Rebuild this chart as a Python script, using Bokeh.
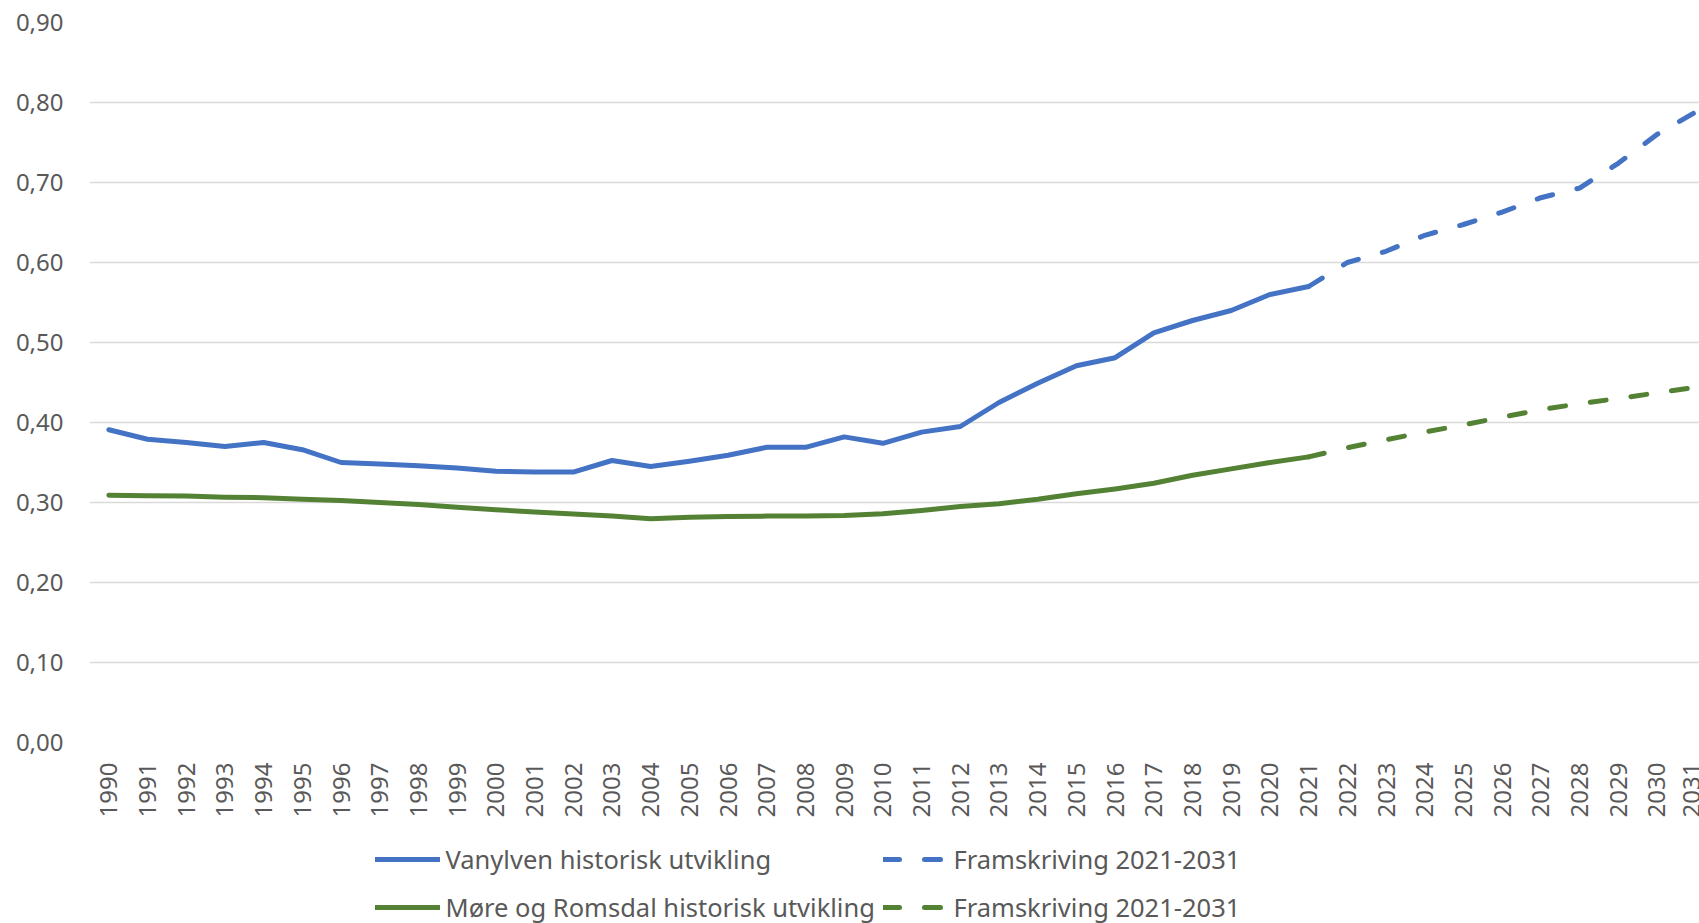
from bokeh.plotting import figure
from bokeh.models import Range1d, FixedTicker, CustomJSTickFormatter, Legend, LegendItem
from bokeh.layouts import column
from bokeh.embed import file_html
from bokeh.resources import INLINE
import math

# ---- data ----
years_hist = list(range(1990, 2022))
years_proj = list(range(2021, 2032))
all_years = list(range(1990, 2032))

vanylven_hist = [0.391, 0.379, 0.375, 0.370, 0.375, 0.366, 0.350, 0.348, 0.346, 0.343,
                 0.339, 0.338, 0.338, 0.3525, 0.345, 0.3515, 0.359, 0.369, 0.369, 0.382,
                 0.374, 0.388, 0.395, 0.425, 0.449, 0.471, 0.481, 0.512, 0.5275, 0.540,
                 0.560, 0.570]
vanylven_proj = [0.570, 0.600, 0.614, 0.634, 0.6475, 0.663, 0.681, 0.693, 0.724, 0.760, 0.788]

more_hist = [0.309, 0.3085, 0.308, 0.3067, 0.306, 0.304, 0.3025, 0.300, 0.2975, 0.294,
             0.291, 0.288, 0.2855, 0.283, 0.2796, 0.2817, 0.2825, 0.283, 0.283, 0.2837,
             0.286, 0.290, 0.295, 0.2985, 0.304, 0.311, 0.317, 0.324, 0.334, 0.342,
             0.350, 0.357]
more_proj = [0.357, 0.3685, 0.3785, 0.388, 0.397, 0.4067, 0.416, 0.4235, 0.430, 0.437, 0.444]

y_ticks = [0.0, 0.1, 0.2, 0.3, 0.4, 0.5, 0.6, 0.7, 0.8, 0.9]

labels = ["Vanylven historisk utvikling", "Framskriving 2021-2031",
          "Møre og Romsdal historisk utvikling", "Framskriving 2021-2031"]

BLUE = "#4472C4"
GREEN = "#548235"
TXT = "#595959"
FONT = "Noto Sans"
DASH = "16 25"

p = figure(width=1699, height=842, output_backend="svg", toolbar_location=None,
           x_range=Range1d(1989.5, 2031.1), y_range=Range1d(0, 0.9),
           min_border_left=89, min_border_right=0, min_border_top=22, min_border_bottom=100)
p.outline_line_color = None
p.background_fill_color = "white"
p.border_fill_color = "white"

line_kw = dict(line_width=5, line_join="round", line_cap="round")
p.line(years_hist, vanylven_hist, line_color=BLUE, **line_kw)
p.line(years_proj, vanylven_proj, line_color=BLUE, line_dash=DASH, **line_kw)
p.line(years_hist, more_hist, line_color=GREEN, **line_kw)
p.line(years_proj, more_proj, line_color=GREEN, line_dash=DASH, **line_kw)

# axes
p.xgrid.visible = False
p.ygrid.grid_line_color = "#D9D9D9"
p.ygrid.grid_line_width = 1.3
p.ygrid.ticker = FixedTicker(ticks=y_ticks)

p.yaxis.ticker = FixedTicker(ticks=y_ticks)
p.yaxis.formatter = CustomJSTickFormatter(code="return tick.toFixed(2).replace('.', ',');")
p.yaxis.axis_line_color = None
p.yaxis.major_tick_line_color = None
p.yaxis.minor_tick_line_color = None
p.yaxis.major_label_standoff = 20
p.yaxis.major_label_text_font = FONT
p.yaxis.major_label_text_font_size = "24px"
p.yaxis.major_label_text_color = TXT

p.xaxis.ticker = FixedTicker(ticks=all_years)
p.xaxis.axis_line_color = None
p.xaxis.major_tick_line_color = None
p.xaxis.minor_tick_line_color = None
p.xaxis.major_label_orientation = math.pi / 2
p.xaxis.major_label_standoff = 14
p.xaxis.major_label_text_font = FONT
p.xaxis.major_label_text_font_size = "24px"
p.xaxis.major_label_text_color = TXT

# ---- legend strip (same series, drawn outside its visible y range) ----
lg = figure(width=1699, height=81, output_backend="svg", toolbar_location=None,
            x_range=Range1d(1989.5, 2031.1), y_range=Range1d(10, 11),
            min_border_left=89, min_border_right=0, min_border_top=0, min_border_bottom=0)
lg.outline_line_color = None
lg.axis.visible = False
lg.grid.visible = False
lg.background_fill_color = "white"
lg.border_fill_color = "white"

k1 = lg.line(years_hist, vanylven_hist, line_color=BLUE, **line_kw)
k2 = lg.line(years_proj, vanylven_proj, line_color=BLUE, line_dash=DASH, **line_kw)
k3 = lg.line(years_hist, more_hist, line_color=GREEN, **line_kw)
k4 = lg.line(years_proj, more_proj, line_color=GREEN, line_dash=DASH, **line_kw)

leg_kw = dict(orientation="vertical", padding=0, margin=0, spacing=14,
              glyph_width=65, glyph_height=34, label_height=34, label_standoff=6,
              label_text_font=FONT, label_text_font_size="25.5px", label_text_color=TXT,
              border_line_color=None, background_fill_alpha=0)
legA = Legend(items=[LegendItem(label=labels[0], renderers=[k1]),
                     LegendItem(label=labels[2], renderers=[k3])],
              location=(285.5, -1), **leg_kw)
legB = Legend(items=[LegendItem(label=labels[1], renderers=[k2]),
                     LegendItem(label=labels[3], renderers=[k4])],
              location=(793.5, -1), **leg_kw)
lg.add_layout(legA)
lg.add_layout(legB)

open("out.html", "w").write(file_html(column(p, lg, spacing=0), INLINE))
